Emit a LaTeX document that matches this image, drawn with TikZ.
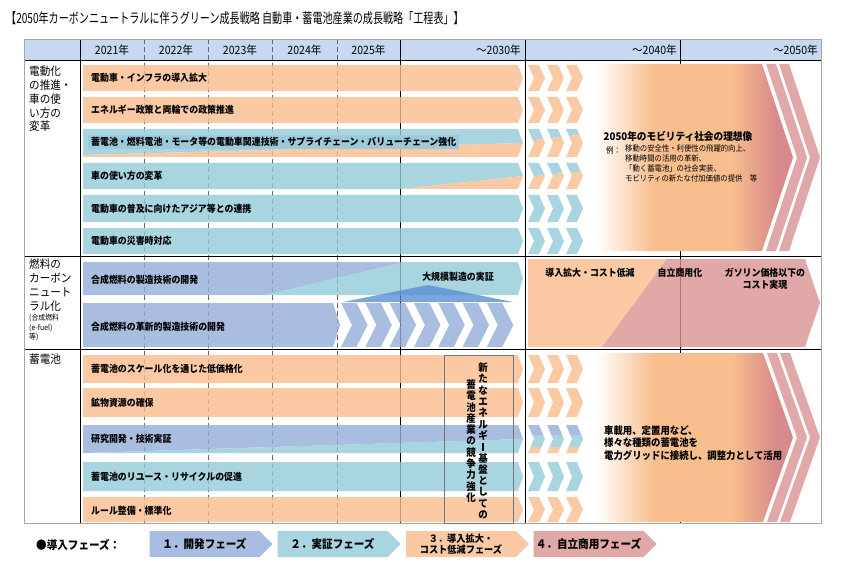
\documentclass[tikz,border=0pt]{standalone}
\usepackage{fontspec}
\setmainfont{Noto Sans CJK JP}[FakeStretch=0.92]
\newfontfamily\titlefont{Noto Sans CJK JP}[FakeStretch=0.72]
\usetikzlibrary{shapes.symbols}
\definecolor{hdrBlue}{HTML}{C6D9F1}
\definecolor{barOr}{HTML}{FABD8D}
\definecolor{barBl}{HTML}{92CAD8}
\definecolor{barLv}{HTML}{92ACD7}
\definecolor{barPk}{HTML}{DA9292}
\definecolor{legOr}{HTML}{FBCAA4}
\definecolor{legBl}{HTML}{A8D5E0}
\definecolor{legLv}{HTML}{A8BDDF}
\definecolor{legPk}{HTML}{E1A8A8}
\definecolor{arrOr}{HTML}{F8BE8E}
\definecolor{arrRd}{HTML}{D88A8A}
\definecolor{stripePk}{HTML}{E0A8A8}
\definecolor{mtnBlue}{HTML}{5A8FD5}
\definecolor{hiBlue}{HTML}{9DCADA}
\definecolor{gridGray}{HTML}{A6A6A6}
\pgfdeclarehorizontalshading{bigarrow}{100bp}{color(0bp)=(white); color(27bp)=(white); color(41bp)=(arrOr); color(60bp)=(arrOr); color(71bp)=(arrRd); color(100bp)=(arrRd)}

\begin{document}
\begin{tikzpicture}[x=1pt, y=-1pt,
    bar/.style={fill opacity=0.8},
    bartext/.style={anchor=west, inner sep=0pt, font=\bfseries\fontsize{9.7}{11}\selectfont},
    sidelabel/.style={anchor=north west, align=left, inner sep=0pt, font=\fontsize{11.5}{13.8}\selectfont},
    year/.style={inner sep=0pt, font=\fontsize{11.5}{12}\selectfont},
    solidline/.style={black, line width=0.8pt},
    dashline/.style={black!60, line width=0.7pt, dash pattern=on 5pt off 3pt},
    tate/.style={inner sep=0pt, align=center, font=\bfseries\fontsize{10.3}{11.3}\selectfont},
    phase/.style={signal, signal to=east, signal pointer angle=90, minimum width=123pt, minimum height=26pt, inner sep=0pt, align=center, font=\bfseries\fontsize{11.5}{12}\selectfont}]
  \useasboundingbox (0,0) rectangle (856,572);

  \node[anchor=west, inner sep=0pt, font=\titlefont\fontsize{14}{15}\selectfont] (title) at (6,18) {【2050年カーボンニュートラルに伴うグリーン成長戦略 自動車・蓄電池産業の成長戦略「工程表」】};

  \fill[hdrBlue] (24,39) rectangle (821,60);
  \draw[dashline] (144,39) -- (144,523);
  \draw[dashline] (208,39) -- (208,523);
  \draw[dashline] (272,39) -- (272,523);
  \draw[dashline] (337,39) -- (337,523);
  \draw[solidline] (80,39) -- (80,523);
  \draw[solidline] (400,39) -- (400,523);
  \draw[solidline] (525,39) -- (525,523);
  \draw[solidline] (680,39) -- (680,523);
  \draw[solidline] (24,60) -- (821,60);
  \draw[solidline] (24,256) -- (821,256);
  \draw[solidline] (24,349) -- (821,349);
  \draw[gridGray, line width=0.8pt] (24,39) rectangle (821,523);

  \node[year] (y2021) at (112,50) {2021年};
  \node[year] (y2022) at (176,50) {2022年};
  \node[year] (y2023) at (240,50) {2023年};
  \node[year] (y2024) at (304.5,50) {2024年};
  \node[year] (y2025) at (368.5,50) {2025年};
  \node[year, anchor=east] (y2030) at (521,50) {～2030年};
  \node[year, anchor=east] (y2040) at (677,50) {～2040年};
  \node[year, anchor=east] (y2050) at (818,50) {～2050年};

  \fill[bar, barOr] (83,65) -- (518,65) -- (523,78) -- (518,91) -- (83,91) -- cycle;
  \fill[bar, barOr] (83,97) -- (518,97) -- (523,110) -- (518,123) -- (83,123) -- cycle;
  \fill[bar, barBl] (83,129) -- (518,129) -- (523,143) -- (83,155) -- cycle;
  \fill[bar, barOr] (83,155) -- (523,143) -- (518,157) -- (83,157) -- cycle;
  \fill[bar, barBl] (83,163) -- (518,163) -- (523,176) -- (400,189) -- (83,189) -- cycle;
  \fill[bar, barOr] (400,189) -- (523,176) -- (518,189) -- cycle;
  \fill[bar, barBl] (83,195) -- (518,195) -- (523,208.5) -- (518,222) -- (83,222) -- cycle;
  \fill[bar, barBl] (83,228) -- (518,228) -- (523,241) -- (518,254) -- (83,254) -- cycle;

  \begin{scope}
    \clip (528,65) -- ++(11,0) -- ++(6,13) -- ++(-6,13) -- ++(-11,0) -- ++(6,-13) -- cycle
          (547,65) -- ++(11,0) -- ++(6,13) -- ++(-6,13) -- ++(-11,0) -- ++(6,-13) -- cycle
          (566,65) -- ++(11,0) -- ++(6,13) -- ++(-6,13) -- ++(-11,0) -- ++(6,-13) -- cycle
          (528,97) -- ++(11,0) -- ++(6,13) -- ++(-6,13) -- ++(-11,0) -- ++(6,-13) -- cycle
          (547,97) -- ++(11,0) -- ++(6,13) -- ++(-6,13) -- ++(-11,0) -- ++(6,-13) -- cycle
          (566,97) -- ++(11,0) -- ++(6,13) -- ++(-6,13) -- ++(-11,0) -- ++(6,-13) -- cycle
          (528,129) -- ++(11,0) -- ++(6,14) -- ++(-6,14) -- ++(-11,0) -- ++(6,-14) -- cycle
          (547,129) -- ++(11,0) -- ++(6,14) -- ++(-6,14) -- ++(-11,0) -- ++(6,-14) -- cycle
          (566,129) -- ++(11,0) -- ++(6,14) -- ++(-6,14) -- ++(-11,0) -- ++(6,-14) -- cycle
          (528,163) -- ++(11,0) -- ++(6,13) -- ++(-6,13) -- ++(-11,0) -- ++(6,-13) -- cycle
          (547,163) -- ++(11,0) -- ++(6,13) -- ++(-6,13) -- ++(-11,0) -- ++(6,-13) -- cycle
          (566,163) -- ++(11,0) -- ++(6,13) -- ++(-6,13) -- ++(-11,0) -- ++(6,-13) -- cycle
          (528,195) -- ++(11,0) -- ++(6,13.5) -- ++(-6,13.5) -- ++(-11,0) -- ++(6,-13.5) -- cycle
          (547,195) -- ++(11,0) -- ++(6,13.5) -- ++(-6,13.5) -- ++(-11,0) -- ++(6,-13.5) -- cycle
          (566,195) -- ++(11,0) -- ++(6,13.5) -- ++(-6,13.5) -- ++(-11,0) -- ++(6,-13.5) -- cycle
          (528,228) -- ++(11,0) -- ++(6,13) -- ++(-6,13) -- ++(-11,0) -- ++(6,-13) -- cycle
          (547,228) -- ++(11,0) -- ++(6,13) -- ++(-6,13) -- ++(-11,0) -- ++(6,-13) -- cycle
          (566,228) -- ++(11,0) -- ++(6,13) -- ++(-6,13) -- ++(-11,0) -- ++(6,-13) -- cycle;
    \fill[bar, barOr] (525,60) rectangle (590,126);
    \fill[bar, barBl] (525,126) -- (590,126) -- (590,133.5) -- (525,141) -- cycle;
    \fill[bar, barOr] (525,141) -- (590,133.5) -- (590,160) -- (525,160) -- cycle;
    \fill[bar, barBl] (525,160) -- (590,160) -- (590,170.5) -- (525,177) -- cycle;
    \fill[bar, barOr] (525,177) -- (590,170.5) -- (590,192) -- (525,192) -- cycle;
    \fill[bar, barBl] (525,192) rectangle (590,258);
  \end{scope}

  \shade[shading=bigarrow] (588,64) -- (762,64) -- (793,157.5) -- (762,251) -- (588,251) -- cycle;
  \fill[stripePk] (766,64) -- (776,64) -- (807,157.5) -- (776,251) -- (766,251) -- (797,157.5) -- cycle;
  \fill[stripePk] (779,64) -- (789,64) -- (820,157.5) -- (789,251) -- (779,251) -- (810,157.5) -- cycle;

  \fill[bar, barLv] (83,262) -- (405,262) -- (265,295) -- (83,295) -- cycle;
  \fill[bar, barBl] (405,262) -- (518,262) -- (523,278.5) -- (518,295) -- (265,295) -- cycle;
  \fill[bar, barLv] (83,303) -- (333,303) -- (340,325) -- (333,347) -- (83,347) -- cycle;
  \fill[bar, barLv] (341,303) -- ++(15.5,0) -- ++(11,22) -- ++(-11,22) -- ++(-15.5,0) -- ++(11,-22) -- cycle;
  \fill[bar, barLv] (365.3,303) -- ++(15.5,0) -- ++(11,22) -- ++(-11,22) -- ++(-15.5,0) -- ++(11,-22) -- cycle;
  \fill[bar, barLv] (389.6,303) -- ++(15.5,0) -- ++(11,22) -- ++(-11,22) -- ++(-15.5,0) -- ++(11,-22) -- cycle;
  \fill[bar, barLv] (413.9,303) -- ++(15.5,0) -- ++(11,22) -- ++(-11,22) -- ++(-15.5,0) -- ++(11,-22) -- cycle;
  \fill[bar, barLv] (438.2,303) -- ++(15.5,0) -- ++(11,22) -- ++(-11,22) -- ++(-15.5,0) -- ++(11,-22) -- cycle;
  \fill[bar, barLv] (462.5,303) -- ++(15.5,0) -- ++(11,22) -- ++(-11,22) -- ++(-15.5,0) -- ++(11,-22) -- cycle;
  \fill[bar, barLv] (486.8,303) -- ++(15.5,0) -- ++(11,22) -- ++(-11,22) -- ++(-15.5,0) -- ++(11,-22) -- cycle;
  \fill[mtnBlue, fill opacity=0.8] (343,302) -- (428,285) -- (513,302) -- cycle;

  \fill[bar, barOr] (528,259) -- (667,259) -- (602,347) -- (528,347) -- cycle;
  \fill[bar, barPk] (667,259) -- (805,259) -- (820,303) -- (805,347) -- (602,347) -- cycle;

  \fill[bar, barOr] (83,355) -- (518,355) -- (523,369) -- (518,383) -- (83,383) -- cycle;
  \fill[bar, barOr] (83,388) -- (518,388) -- (523,402.5) -- (518,417) -- (83,417) -- cycle;
  \fill[bar, barLv] (83,425) -- (518,425) -- (523,439) -- (83,453) -- cycle;
  \fill[bar, barBl] (83,453) -- (523,439) -- (518,453) -- cycle;
  \fill[bar, barBl] (83,462) -- (518,462) -- (523,476.5) -- (518,491) -- (83,491) -- cycle;
  \fill[bar, barOr] (83,497) -- (518,497) -- (523,509.5) -- (518,522) -- (83,522) -- cycle;

  \begin{scope}
    \clip (528,355) -- ++(11,0) -- ++(6,14) -- ++(-6,14) -- ++(-11,0) -- ++(6,-14) -- cycle
          (547,355) -- ++(11,0) -- ++(6,14) -- ++(-6,14) -- ++(-11,0) -- ++(6,-14) -- cycle
          (566,355) -- ++(11,0) -- ++(6,14) -- ++(-6,14) -- ++(-11,0) -- ++(6,-14) -- cycle
          (528,388) -- ++(11,0) -- ++(6,14.5) -- ++(-6,14.5) -- ++(-11,0) -- ++(6,-14.5) -- cycle
          (547,388) -- ++(11,0) -- ++(6,14.5) -- ++(-6,14.5) -- ++(-11,0) -- ++(6,-14.5) -- cycle
          (566,388) -- ++(11,0) -- ++(6,14.5) -- ++(-6,14.5) -- ++(-11,0) -- ++(6,-14.5) -- cycle
          (528,425) -- ++(11,0) -- ++(6,14) -- ++(-6,14) -- ++(-11,0) -- ++(6,-14) -- cycle
          (547,425) -- ++(11,0) -- ++(6,14) -- ++(-6,14) -- ++(-11,0) -- ++(6,-14) -- cycle
          (566,425) -- ++(11,0) -- ++(6,14) -- ++(-6,14) -- ++(-11,0) -- ++(6,-14) -- cycle
          (528,462) -- ++(11,0) -- ++(6,14.5) -- ++(-6,14.5) -- ++(-11,0) -- ++(6,-14.5) -- cycle
          (547,462) -- ++(11,0) -- ++(6,14.5) -- ++(-6,14.5) -- ++(-11,0) -- ++(6,-14.5) -- cycle
          (566,462) -- ++(11,0) -- ++(6,14.5) -- ++(-6,14.5) -- ++(-11,0) -- ++(6,-14.5) -- cycle
          (528,497) -- ++(11,0) -- ++(6,12.5) -- ++(-6,12.5) -- ++(-11,0) -- ++(6,-12.5) -- cycle
          (547,497) -- ++(11,0) -- ++(6,12.5) -- ++(-6,12.5) -- ++(-11,0) -- ++(6,-12.5) -- cycle
          (566,497) -- ++(11,0) -- ++(6,12.5) -- ++(-6,12.5) -- ++(-11,0) -- ++(6,-12.5) -- cycle;
    \fill[bar, barOr] (525,350) rectangle (590,420);
    \fill[bar, barLv] (525,420) rectangle (590,435);
    \fill[bar, barBl] (525,435) rectangle (590,447);
    \fill[bar, barOr] (525,447) rectangle (590,458);
    \fill[bar, barBl] (525,458) rectangle (590,494);
    \fill[bar, barOr] (525,494) rectangle (590,523);
  \end{scope}

  \shade[shading=bigarrow] (588,353) -- (763,353) -- (793,437.5) -- (763,522) -- (588,522) -- cycle;
  \fill[stripePk] (767,353) -- (777,353) -- (807,437.5) -- (777,522) -- (767,522) -- (797,437.5) -- cycle;
  \fill[stripePk] (780,353) -- (790,353) -- (820,437.5) -- (790,522) -- (780,522) -- (810,437.5) -- cycle;

  \draw[black!55, line width=0.6pt] (444,355) rectangle (513,523);

  \node[sidelabel] (labelEV) at (29,66) {電動化\\の推進・\\車の使\\い方の\\変革};
  \node[sidelabel] (labelFuel) at (29,259) {燃料の\\カーボン\\ニュート\\ラル化};
  \node[sidelabel, font=\fontsize{7.5}{9.5}\selectfont] (labelFuelNote) at (29,314) {(合成燃料\\(e-fuel)\\等)};
  \node[sidelabel] (labelBat) at (29,354) {蓄電池};

  \node[bartext] (ev1) at (91,78) {電動車・インフラの導入拡大};
  \node[bartext] (ev2) at (91,110) {エネルギー政策と両輪での政策推進};
  \node[bartext, fill=hiBlue, inner xsep=3pt, inner ysep=2pt] (ev3) at (88,142) {蓄電池・燃料電池・モータ等の電動車関連技術・サプライチェーン・バリューチェーン強化};
  \node[bartext] (ev4) at (91,176) {車の使い方の変革};
  \node[bartext] (ev5) at (91,209) {電動車の普及に向けたアジア等との連携};
  \node[bartext] (ev6) at (91,241) {電動車の災害時対応};

  \node[bartext] (fuel1) at (91,280) {合成燃料の製造技術の開発};
  \node[bartext, anchor=center] (fuel1b) at (458,277) {大規模製造の実証};
  \node[bartext] (fuel2) at (91,327) {合成燃料の革新的製造技術の開発};

  \node[bartext] (bat1) at (91,369) {蓄電池のスケール化を通じた低価格化};
  \node[bartext] (bat2) at (91,403) {鉱物資源の確保};
  \node[bartext] (bat3) at (91,439) {研究開発・技術実証};
  \node[bartext] (bat4) at (91,477) {蓄電池のリユース・リサイクルの促進};
  \node[bartext] (bat5) at (91,511) {ルール整備・標準化};

  \node[tate] (tateR) at (483,441) {新\\た\\な\\エ\\ネ\\ル\\ギ\\\rule[-0.5pt]{1.4pt}{8.5pt}\\基\\盤\\と\\し\\て\\の};
  \node[tate] (tateL) at (471,441) {蓄\\電\\池\\産\\業\\の\\競\\争\\力\\強\\化};

  \node[bartext, anchor=center, font=\bfseries\fontsize{10.5}{12}\selectfont] (vision) at (678,136) {2050年のモビリティ社会の理想像};
  \node[anchor=west, inner sep=0pt, font=\fontsize{8}{10}\selectfont] (visionEx) at (606,150) {例：};
  \node[anchor=north west, align=left, inner sep=0pt, font=\fontsize{8}{10}\selectfont] (visionList) at (625,145) {移動の安全性・利便性の飛躍的向上、\\移動時間の活用の革新、\\「動く蓄電池」の社会実装、\\モビリティの新たな付加価値の提供　等};

  \node[bartext, anchor=center] (fuelR1) at (590,273) {導入拡大・コスト低減};
  \node[bartext, anchor=center] (fuelR2) at (680,273) {自立商用化};
  \node[bartext, anchor=center, align=center, font=\bfseries\fontsize{9.7}{12}\selectfont] (fuelR3) at (765,279) {ガソリン価格以下の\\コスト実現};

  \node[bartext, align=left, font=\bfseries\fontsize{10.2}{12.5}\selectfont] (grid) at (604,443) {車載用、定置用など、\\様々な種類の蓄電池を\\電力グリッドに接続し、調整力として活用};

  \node[anchor=west, inner sep=0pt, font=\bfseries\fontsize{11.5}{12}\selectfont] (legend) at (36,545) {●導入フェーズ：};
  \node[phase, fill=legLv] (phase1) at (204.5,544) {１．開発フェーズ};
  \node[phase, fill=legBl] (phase2) at (332.5,544) {２．実証フェーズ};
  \node[phase, fill=legOr, font=\bfseries\fontsize{10}{11}\selectfont] (phase3) at (461,544) {３．導入拡大・\\コスト低減フェーズ};
  \node[phase, fill=legPk] (phase4) at (588.5,544) {４．自立商用フェーズ};
\end{tikzpicture}
\end{document}
